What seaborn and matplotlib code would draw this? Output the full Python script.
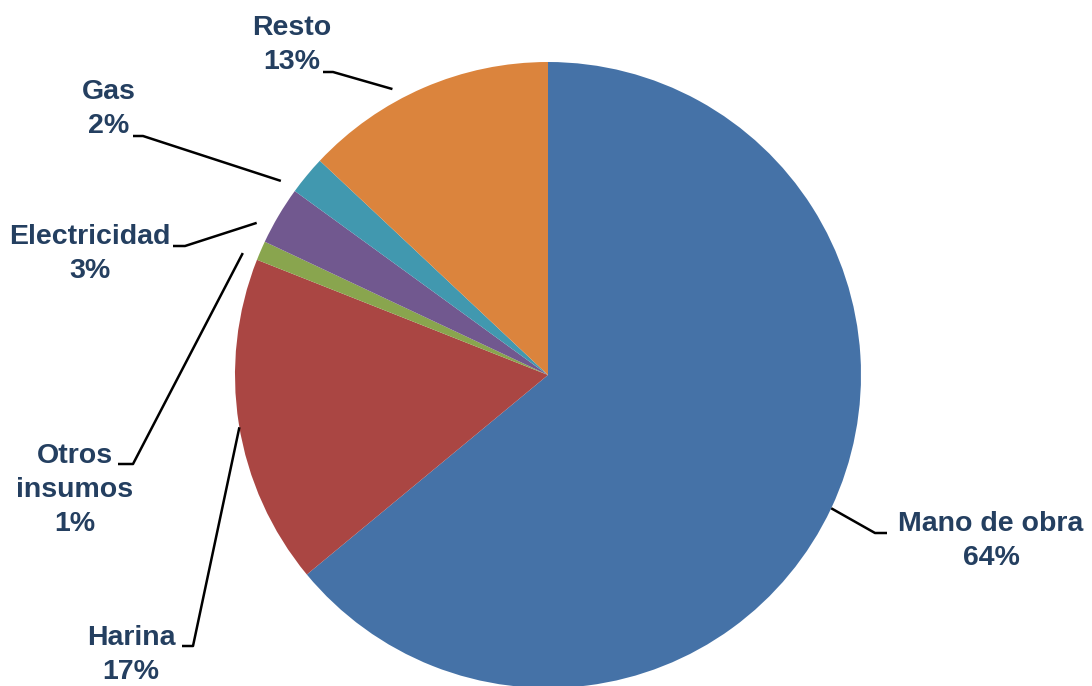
import numpy as np
import matplotlib
matplotlib.use("Agg")
import matplotlib.pyplot as plt
import seaborn as sns

# Cost structure shares (%)
categories = ["Mano de obra", "Harina", "Otros\ninsumos", "Electricidad", "Gas", "Resto"]
shares = [64, 17, 1, 3, 2, 13]
colors = ["#4572A7", "#AA4643", "#89A54E", "#71588F", "#4198AF", "#DB843D"]

sns.set_theme(style="white")
plt.rcParams["font.family"] = ["Liberation Sans", "DejaVu Sans"]

W, H = 1092, 686
CX, CY, R = 548, 375, 313  # pie centre and radius in pixels


def px(x, y):
    """Pixel position (origin top-left) -> data coordinates (pie radius = 1)."""
    return (x - CX) / R, (CY - y) / R


fig = plt.figure(figsize=(W / 100, H / 100), dpi=100)
ax = fig.add_axes([0, 0, 1, 1])

wedges, _ = ax.pie(
    shares, colors=colors, startangle=90, counterclock=False,
    radius=1.0, center=(0, 0), wedgeprops=dict(linewidth=0),
)

# pie() sets its own limits; put the canvas back to pixel-matched extents
ax.set_xlim(-CX / R, (W - CX) / R)
ax.set_ylim(-(H - CY) / R, CY / R)
ax.set_aspect("equal")
ax.axis("off")

# Label layout: text block centre, start of the leader stub, stub end,
# and where the leader meets the wedge (fraction along the wedge, radius)
label_layout = [
    dict(text=(991, 541), stub=((887, 533), (875, 533)), frac=0.50, rad=1.0),
    dict(text=(131, 655), stub=((182, 646), (193, 646)), frac=0.51, rad=1.0),
    dict(text=(75, 490), stub=((118, 464), (133, 464)), frac=0.95, rad=1.05),
    dict(text=(90, 254), stub=((173, 246), (185, 246)), frac=0.78, rad=1.05),
    dict(text=(109, 109), stub=((133, 136), (143, 136)), frac=1.0, rad=1.055),
    dict(text=(292, 45), stub=((323, 72), (333, 72)), frac=0.61, rad=1.04),
]

text_color = "#243F60"
for wedge, cat, val, lay in zip(wedges, categories, shares, label_layout):
    t1, t2 = wedge.theta1, wedge.theta2
    ang = np.deg2rad(t1 + (t2 - t1) * lay["frac"])
    ex, ey = lay["rad"] * np.cos(ang), lay["rad"] * np.sin(ang)
    (sx0, sy0), (sx1, sy1) = px(*lay["stub"][0]), px(*lay["stub"][1])
    ax.plot([sx0, sx1, ex], [sy0, sy1, ey], color="black", lw=1.8,
            solid_capstyle="butt", zorder=3)
    tx, ty = px(*lay["text"])
    ax.text(tx, ty, f"{cat}\n{val}%", ha="center", va="center",
            fontsize=20.5, fontweight="bold", color=text_color,
            linespacing=1.42, zorder=4)

fig.savefig("out.png", dpi=100)
